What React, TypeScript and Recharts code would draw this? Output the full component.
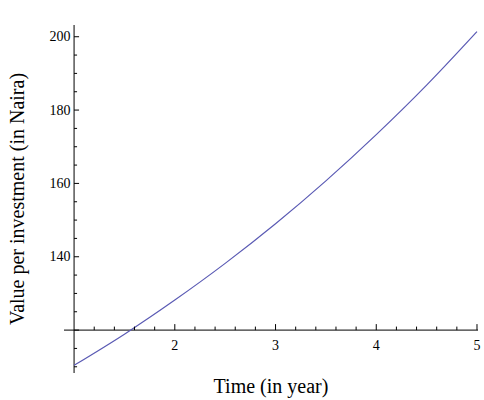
import { Label, Line, LineChart, ReferenceLine, XAxis, YAxis } from "recharts";

// years and value
const years = [1, 1.5, 2, 2.5, 3, 3.5, 4, 4.5, 5];
const values = [110.4, 118.9, 128.2, 138.2, 149.0, 160.7, 173.3, 186.8, 201.4];

const xTicks = [1.2, 1.4, 1.6, 1.8, 2, 2.2, 2.4, 2.6, 2.8, 3, 3.2, 3.4, 3.6, 3.8, 4, 4.2, 4.4, 4.6, 4.8, 5];
const yTicks = [110, 115, 120, 125, 130, 135, 140, 145, 150, 155, 160, 165, 170, 175, 180, 185, 190, 195, 200];
const yLabels = [140, 160, 180, 200];

const data = years.map((t, i) => ({ t, v: values[i] }));

const X_MIN = 0.9;
const X_MAX = 5.01;
const Y_MIN = 108.3;
const Y_MAX = 203.2;
const CROSS_X = 1;
const CROSS_Y = 120;

const MARGIN = { top: 25, right: 6, bottom: 0, left: 0 };
const W = 484;
const H = 400;
const Y_AXIS_W = 64;
const X_AXIS_H = 27;
const PLOT_W = W - MARGIN.left - MARGIN.right - Y_AXIS_W;
const PLOT_H = H - MARGIN.top - MARGIN.bottom - X_AXIS_H;

// axes cross inside the plot, so ticks are shifted from the plot edges
const X_SHIFT = (PLOT_H * (CROSS_Y - Y_MIN)) / (Y_MAX - Y_MIN);
const Y_SHIFT = (PLOT_W * (CROSS_X - X_MIN)) / (X_MAX - X_MIN);

const FONT = "'Liberation Serif', 'Times New Roman', serif";

function XTick({ x, y, payload }: any) {
  const v = payload.value;
  const ay = y - X_SHIFT;
  const major = Number.isInteger(v);
  return (
    <g>
      <line x1={x} x2={x} y1={ay} y2={ay - (major ? 6 : 3.5)} stroke="#000" strokeWidth={1} />
      {major && (
        <text x={x} y={ay + 20} textAnchor="middle" fontSize={14} fontFamily={FONT} fill="#000">
          {v}
        </text>
      )}
    </g>
  );
}

function YTick({ x, y, payload }: any) {
  const v = payload.value;
  const ax = x + Y_SHIFT;
  const major = v % 20 === 0;
  return (
    <g>
      <line x1={ax} x2={ax + (major ? 5 : 3)} y1={y} y2={y} stroke="#000" strokeWidth={1} />
      {yLabels.includes(v) && (
        <text x={ax - 3.5} y={y + 4.5} textAnchor="end" fontSize={14} fontFamily={FONT} fill="#000">
          {v}
        </text>
      )}
    </g>
  );
}

export default function App() {
  return (
    <div style={{ position: "absolute", left: 0, top: 0, background: "#fff" }}>
      <LineChart width={W} height={H} data={data} margin={MARGIN}>
        <XAxis
          dataKey="t"
          type="number"
          domain={[X_MIN, X_MAX]}
          ticks={xTicks}
          interval={0}
          allowDataOverflow
          axisLine={false}
          tickLine={false}
          tickSize={0}
          tickMargin={0}
          height={X_AXIS_H}
          tick={<XTick />}
        >
          <Label
            value="Time (in year)"
            position="insideBottom"
            offset={7}
            style={{ fontSize: 20, fontFamily: FONT, fill: "#000" }}
          />
        </XAxis>
        <YAxis
          type="number"
          domain={[Y_MIN, Y_MAX]}
          ticks={yTicks}
          interval={0}
          allowDataOverflow
          axisLine={false}
          tickLine={false}
          tickSize={0}
          tickMargin={0}
          width={Y_AXIS_W}
          tick={<YTick />}
        >
          <Label
            value="Value per investment (in Naira)"
            angle={-90}
            position="insideLeft"
            offset={17}
            style={{ fontSize: 20, fontFamily: FONT, fill: "#000", textAnchor: "middle" }}
          />
        </YAxis>
        <ReferenceLine x={CROSS_X} stroke="#000" strokeWidth={1} />
        <ReferenceLine y={CROSS_Y} stroke="#000" strokeWidth={1} />
        <Line
          type="monotone"
          dataKey="v"
          stroke="#5a5ab4"
          strokeWidth={1.2}
          dot={false}
          isAnimationActive={false}
        />
      </LineChart>
    </div>
  );
}
